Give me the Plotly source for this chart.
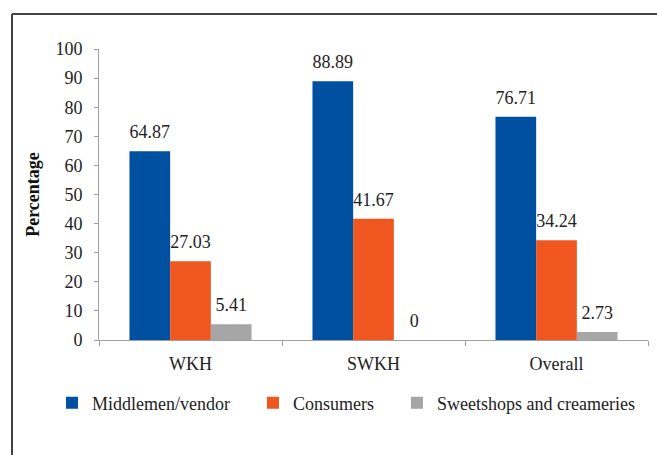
import plotly.graph_objects as go

categories = ["WKH", "SWKH", "Overall"]
series_names = ["Middlemen/vendor", "Consumers", "Sweetshops and creameries"]
middlemen = [64.87, 88.89, 76.71]
consumers = [27.03, 41.67, 34.24]
sweetshops = [5.41, 0, 2.73]
y_ticks = [0, 10, 20, 30, 40, 50, 60, 70, 80, 90, 100]

colors = ["#0050A2", "#F0561F", "#A6A6A6"]
values = [middlemen, consumers, sweetshops]
FONT = '"Liberation Serif", "Times New Roman", Times, serif'
TXT = "#222222"
FS = 18
PAD = "\u00a0" * 4

fig = go.Figure()
for i, (name, vals) in enumerate(zip(series_names, values)):
    fig.add_trace(go.Bar(
        x=categories, y=vals, name=name + (PAD if i < len(series_names) - 1 else ""),
        marker=dict(color=colors[i], line=dict(width=0)),
        offsetgroup=str(i),
    ))
for i, (name, vals) in enumerate(zip(series_names, values)):
    fig.add_trace(go.Scatter(
        x=categories, y=vals, mode="markers+text",
        text=[f"{v:g}" for v in vals],
        textposition="top center",
        textfont=dict(family=FONT, size=FS, color=TXT),
        marker=dict(size=12, opacity=0),
        offsetgroup=str(i),
        showlegend=False, hoverinfo="skip",
    ))

W, H = 657, 455
L, R, T, B = 99, 9, 49, 115
pw, ph = W - L - R, H - T - B

def px(x):
    return (x - L) / pw

def py(y):
    return (H - B - y) / ph

fig.update_layout(
    width=W, height=H,
    margin=dict(l=L, r=R, t=T, b=B),
    paper_bgcolor="white", plot_bgcolor="rgba(0,0,0,0)",
    barmode="group", bargap=0.333, bargroupgap=0,
    scattermode="group", scattergap=0.333,
    font=dict(family=FONT, size=FS, color=TXT),
    showlegend=True,
    legend=dict(orientation="h", x=px(52), xanchor="left", y=py(403), yanchor="middle",
                font=dict(family=FONT, size=FS, color=TXT), itemwidth=30,
                bgcolor="rgba(0,0,0,0)", traceorder="normal"),
    xaxis=dict(showline=True, linecolor="#A0A0A0", linewidth=1, ticks="outside",
               tickson="boundaries", ticklen=5, tickcolor="#A0A0A0",
               ticklabelstandoff=7, showgrid=False, zeroline=False,
               tickfont=dict(family=FONT, size=FS, color=TXT)),
    yaxis=dict(range=[0, 100], tickvals=y_ticks, showline=True, linecolor="#A0A0A0",
               linewidth=1, ticks="outside", ticklen=4, tickcolor="#A0A0A0",
               ticklabelstandoff=8, showgrid=False, zeroline=False,
               tickfont=dict(family=FONT, size=FS, color=TXT),
               title=dict(text="<b>Percentage</b>", standoff=11,
                          font=dict(family=FONT, size=FS, color="#111111"))),
    shapes=[
        dict(type="line", xref="paper", yref="paper", layer="above",
             x0=px(12), x1=px(657), y0=py(14), y1=py(14),
             line=dict(color="#444444", width=2)),
        dict(type="line", xref="paper", yref="paper", layer="above",
             x0=px(12), x1=px(12), y0=py(14), y1=py(455),
             line=dict(color="#444444", width=2)),
    ],
)

fig.write_html(
    "out.html",
    config={"displayModeBar": False},
    post_script="document.documentElement.style.overflow='hidden';document.body.style.overflow='hidden';document.body.style.margin='0';",
)
